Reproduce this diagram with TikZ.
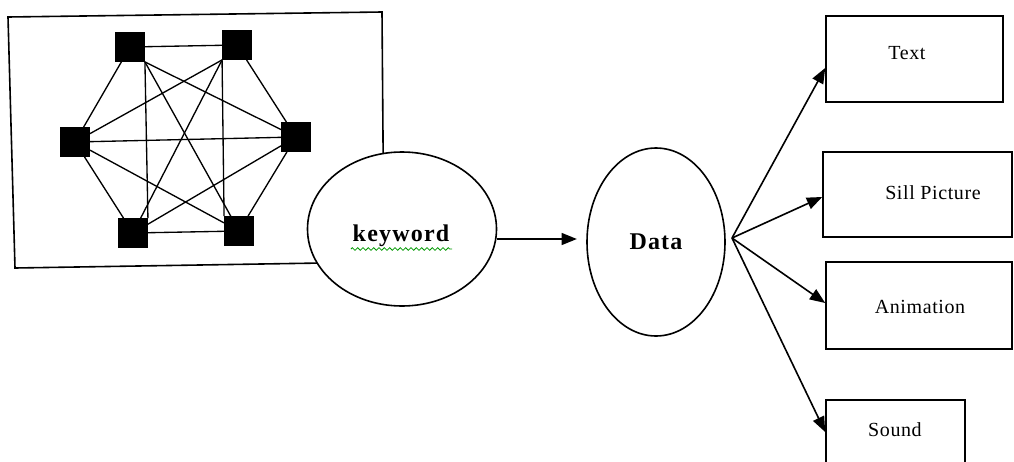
\documentclass[tikz,border=0pt]{standalone}
\usepackage{fontspec}
\setmainfont{Liberation Serif}
\usetikzlibrary{shapes.geometric,arrows.meta,decorations.pathmorphing}
\begin{document}
\begin{tikzpicture}[x=0.75pt,y=-0.75pt,
  sq/.style={fill=black,draw=black,minimum size=22pt,inner sep=0pt},
  net/.style={line width=1pt},
  oval/.style={ellipse,draw,line width=1.2pt,fill=white,inner sep=0pt},
  box/.style={rectangle,draw,line width=1.2pt,inner sep=0pt},
  lbl/.style={font=\fontsize{15}{17}\selectfont\addfontfeature{LetterSpace=3}},
  big/.style={font=\fontsize{18}{20}\selectfont\bfseries\addfontfeature{LetterSpace=5}},
  arr/.style={line width=1.2pt,-{Triangle[length=11.5pt,width=9pt]}}]
\clip (0,0) rectangle (1014,461);
\fill[white] (0,0) rectangle (1014,461);
% network frame
\draw[line width=1.2pt] (8,17) -- (382,12) -- (384,262) -- (15,268) -- cycle;
% nodes
\node[sq] (TL) at (130,47) {};
\node[sq] (TR) at (237,45) {};
\node[sq] (L) at (75,142) {};
\node[sq] (R) at (296,137) {};
\node[sq] (BL) at (133,233) {};
\node[sq] (BR) at (239,231) {};
% edges
\draw[net] (TL) -- (TR);
\draw[net] (TL) -- (L);
\draw[net] (TR) -- (R);
\draw[net] (L) -- (BL);
\draw[net] (R) -- (BR);
\draw[net] (BL) -- (BR);
\draw[net] (TL.south east) -- (BL.north east);
\draw[net] (TR.south west) -- (BR.north west);
\draw[net] (TL.south east) -- (BR);
\draw[net] (TR.south west) -- (BL);
\draw[net] (L) -- (R);
\draw[net] (TL.south east) -- (R);
\draw[net] (TR.south west) -- (L);
\draw[net] (L) -- (BR);
\draw[net] (R) -- (BL);
% keyword ellipse
\node[oval,minimum width=141.75pt,minimum height=115.5pt] (kw) at (402,229) {};
\node[big] (kwt) at (401,236) {keyword};
\draw[green!60!black,line width=0.6pt,decorate,decoration={zigzag,segment length=4pt,amplitude=1pt}] (351,249) coordinate (zs) -- (452,249) coordinate (ze);
% data ellipse
\node[oval,minimum width=103.5pt,minimum height=141pt] (data) at (656,242) {};
\node[big] at (656,242) {Data};
\draw[arr] (kw.east |- 0,239) -- (data.west |- 0,239) [shorten >=7pt];
% boxes
\node[box,minimum width=132.75pt,minimum height=64.5pt] (text) at (914.5,59) {};
\node[box,minimum width=141.75pt,minimum height=63.75pt] (sill) at (917.5,194.5) {};
\node[box,minimum width=139.5pt,minimum height=65.25pt] (anim) at (919,305.5) {};
\node[box,minimum width=104.25pt,minimum height=52.5pt] (sound) at (895.5,435) {};
\node[lbl] at (907,53) {Text};
\node[lbl] at (933,193) {Sill Picture};
\node[lbl] at (920,307) {Animation};
\node[lbl] at (895,430) {Sound};
% fan arrows
\coordinate (fan) at (732,238);
\draw[arr] (fan) -- (text.west |- 0,68);
\draw[arr] (fan) -- (sill.west |- 0,197);
\draw[arr] (fan) -- (anim.west |- 0,303);
\draw[arr] (fan) -- (sound.west |- 0,432);
\end{tikzpicture}
\end{document}
